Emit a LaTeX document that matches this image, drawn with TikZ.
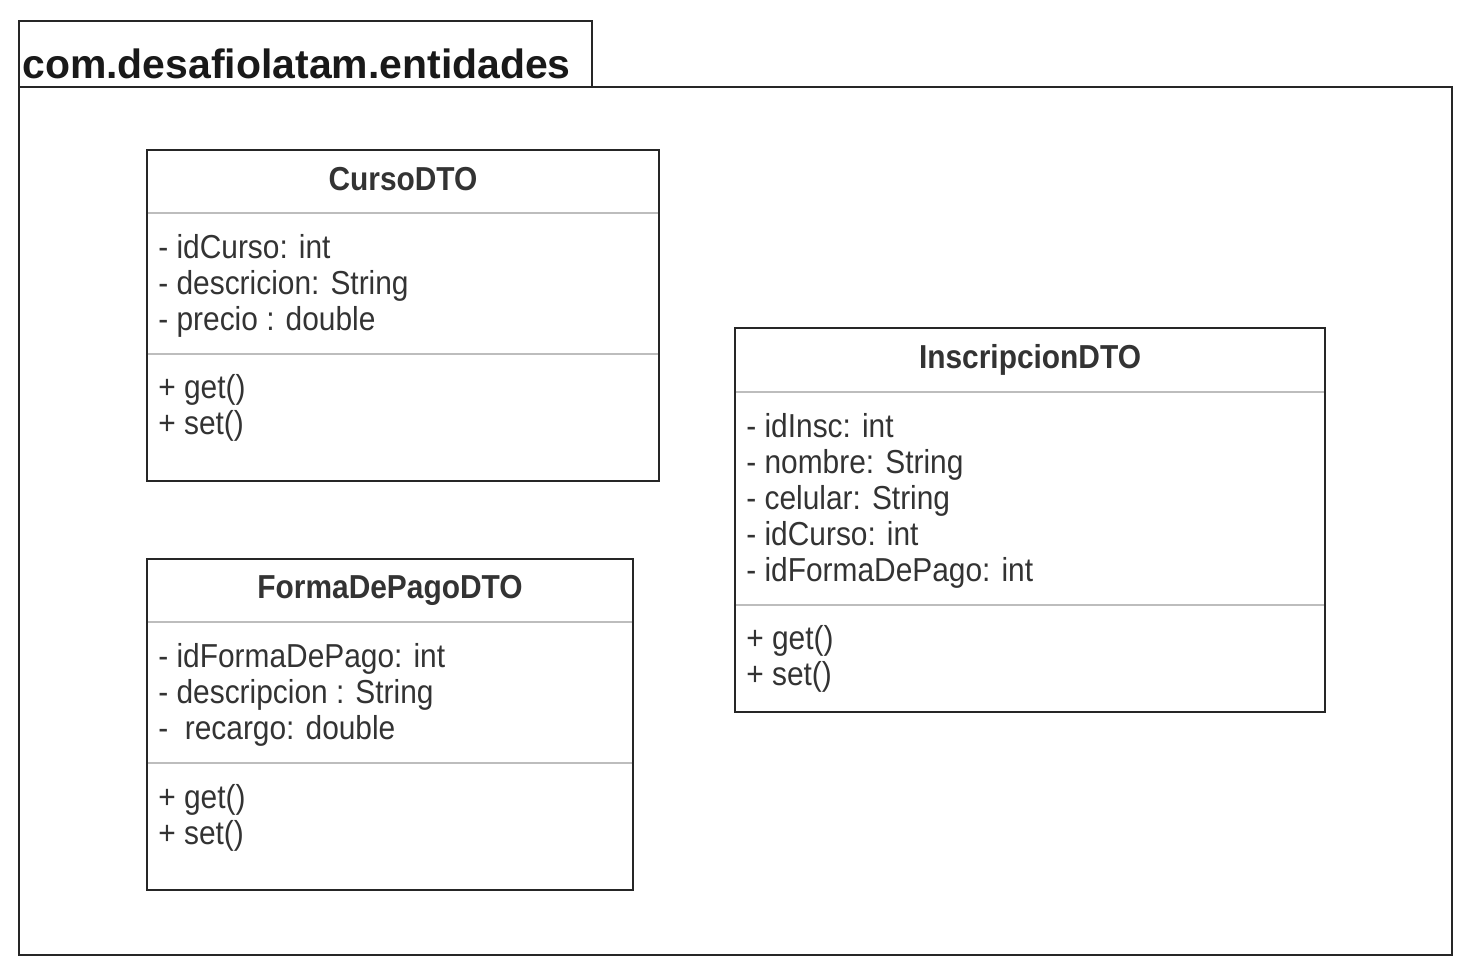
\documentclass[tikz,border=0pt]{standalone}
\usepackage{fontspec}
\setmainfont{Liberation Sans}
\newfontfamily\membfont{Liberation Sans}[FakeStretch=0.9]
\usetikzlibrary{positioning}
\definecolor{sepgray}{HTML}{BDBDBD}
\definecolor{txtgray}{HTML}{333333}
\tikzset{
  member/.style={anchor=base west, inner sep=0pt, text=txtgray,
                 font=\membfont\fontsize{18.9pt}{22pt}\selectfont},
  classname/.style={anchor=base, inner sep=0pt, text=txtgray,
                 font=\membfont\fontsize{18.9pt}{22pt}\selectfont\bfseries},
  pkgname/.style={anchor=base west, inner sep=0pt, text=black!90,
                 font=\fontsize{23.3pt}{28pt}\selectfont\bfseries},
  classbox/.style={draw=black!85, line width=1.6pt},
  sepline/.style={draw=sepgray, line width=1.4pt},
}

\begin{document}
\begin{tikzpicture}[x=0.2mm,y=-0.2mm]
    \useasboundingbox (0,0) rectangle (1474,978);
    \pgfmathsetmacro {\dl}{36}  %Line spacing of members

    % Package tab and body
    \draw[classbox] (19,21) rectangle (592,87);
    \draw[classbox] (19,87) rectangle (1452,955);
    \node[pkgname] (pkg) at (22,78) {com.desafiolatam.entidades};

    % CursoDTO
    \draw[sepline] (147,213) -- (659,213);
    \draw[sepline] (147,354) -- (659,354);
    \draw[classbox] (147,150) rectangle (659,481);
    \node[classname] (curso) at (403,190) {CursoDTO};
    \foreach \t [count=\i from 0] in {- idCurso: int,- descricion: String,- precio : double} {
        \node[member] (curso-a\i) at (158,{258+\i*\dl}) {\t};
    }
    \foreach \t [count=\i from 0] in {+ get(),+ set()} {
        \node[member] (curso-m\i) at (158,{398+\i*\dl}) {\t};
    }

    % FormaDePagoDTO
    \draw[sepline] (147,622) -- (633,622);
    \draw[sepline] (147,763) -- (633,763);
    \draw[classbox] (147,559) rectangle (633,890);
    \node[classname] (pago) at (390,598) {FormaDePagoDTO};
    \foreach \t [count=\i from 0] in {- idFormaDePago: int,- descripcion : String,{-\ \ recargo: double}} {
        \node[member] (pago-a\i) at (158,{667+\i*\dl}) {\t};
    }
    \foreach \t [count=\i from 0] in {+ get(),+ set()} {
        \node[member] (pago-m\i) at (158,{808+\i*\dl}) {\t};
    }

    % InscripcionDTO
    \draw[sepline] (735,392) -- (1325,392);
    \draw[sepline] (735,605) -- (1325,605);
    \draw[classbox] (735,328) rectangle (1325,712);
    \node[classname] (insc) at (1030,368) {InscripcionDTO};
    \foreach \t [count=\i from 0] in {- idInsc: int,- nombre: String,- celular: String,- idCurso: int,- idFormaDePago: int} {
        \node[member] (insc-a\i) at (746,{437+\i*\dl}) {\t};
    }
    \foreach \t [count=\i from 0] in {+ get(),+ set()} {
        \node[member] (insc-m\i) at (746,{649+\i*\dl}) {\t};
    }
\end{tikzpicture}
\end{document}
